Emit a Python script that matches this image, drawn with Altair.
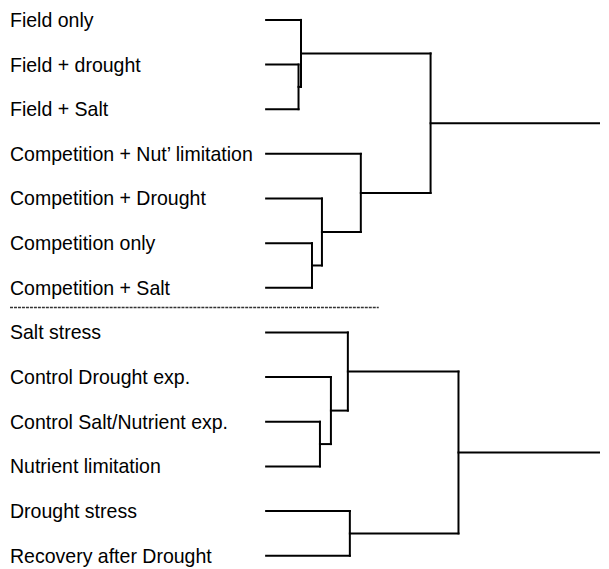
import altair as alt
import pandas as pd

# Leaf labels, top to bottom
leaves = [
    "Field only",
    "Field + drought",
    "Field + Salt",
    "Competition + Nut\u2019 limitation",
    "Competition + Drought",
    "Competition only",
    "Competition + Salt",
    "Salt stress",
    "Control Drought exp.",
    "Control Salt/Nutrient exp.",
    "Nutrient limitation",
    "Drought stress",
    "Recovery after Drought",
]

# Linkage (scipy-style): node ids >= len(leaves) refer to earlier merges
merge_a = [1, 0, 5, 4, 3, 14, 9, 8, 7, 11, 21]
merge_b = [2, 13, 6, 15, 16, 17, 10, 19, 20, 12, 22]
merge_h = [0.325, 0.35, 0.46, 0.56, 0.95, 1.65, 0.54, 0.65, 0.82, 0.84, 1.93]

# roots of the two dendrograms and the extent of their stems
roots = [18, 23]
stem_end = 3.34
separator_pos = 6.44

n = len(leaves)
node_y = {i: float(i) for i in range(n)}
node_h = {i: 0.0 for i in range(n)}
segs = []
for k, (a, b, h) in enumerate(zip(merge_a, merge_b, merge_h)):
    nid = n + k
    ya, yb = node_y[a], node_y[b]
    segs.append(dict(x=node_h[a], x2=h, y=ya, y2=ya))
    segs.append(dict(x=node_h[b], x2=h, y=yb, y2=yb))
    segs.append(dict(x=h, x2=h, y=ya, y2=yb))
    node_y[nid] = (ya + yb) / 2
    node_h[nid] = h
for r in roots:
    segs.append(dict(x=node_h[r], x2=stem_end, y=node_y[r], y2=node_y[r]))

seg_df = pd.DataFrame(segs)
lab_df = pd.DataFrame({"label": leaves, "y": [float(i) for i in range(n)]})

W, H = 593, 553
xs = alt.Scale(domain=[-2.59, stem_end], nice=False, zero=False)
ys = alt.Scale(domain=[-0.2455, 12.098], range=[0, H], nice=False, zero=False)

tree = alt.Chart(seg_df).mark_rule(color="black", strokeWidth=2, strokeCap="square").encode(
    x=alt.X("x:Q", scale=xs, axis=None),
    x2="x2:Q",
    y=alt.Y("y:Q", scale=ys, axis=None),
    y2="y2:Q",
)

labels = alt.Chart(lab_df).mark_text(
    align="left", baseline="middle", font="Liberation Sans", fontSize=19.6, color="black", dy=1
).encode(
    x=alt.value(2),
    y=alt.Y("y:Q", scale=ys, axis=None),
    text="label:N",
)

sep = alt.Chart(pd.DataFrame({"y": [separator_pos]})).mark_rule(
    color="#333", strokeWidth=1.5, strokeDash=[3, 1]
).encode(
    x=alt.value(2),
    x2=alt.value(372),
    y=alt.Y("y:Q", scale=ys, axis=None),
)

chart = alt.layer(tree, labels, sep).properties(
    width=W, height=H, padding=0
).configure_view(stroke=None)

chart.save("out.html", embed_options={"renderer": "svg", "actions": False})
